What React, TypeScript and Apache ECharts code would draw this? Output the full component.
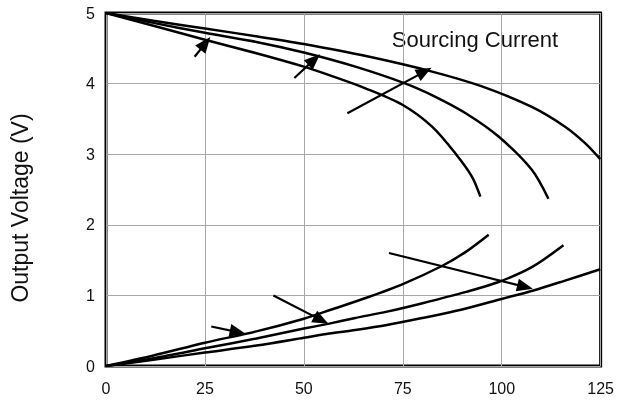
import React, { useEffect, useRef } from "react";
import * as echarts from "echarts";

const xTicks = [0, 25, 50, 75, 100, 125];
const yTicks = [0, 1, 2, 3, 4, 5];

// Sourcing current curves (x: current, y: output voltage)
const sourceLow: [number, number][] = [[0, 5], [12, 4.82], [25, 4.62], [38, 4.43], [50, 4.24], [56.4, 4.12], [65.7, 3.93], [74.9, 3.7], [82.4, 3.39], [88.3, 3.01], [92.5, 2.68], [94.6, 2.4]];
const sourceMid: [number, number][] = [[0, 5], [12, 4.86], [25, 4.72], [38, 4.59], [50, 4.44], [63, 4.24], [75.7, 4.0], [83, 3.82], [90.9, 3.58], [99.2, 3.25], [107.6, 2.78], [111.8, 2.37]];
const sourceHigh: [number, number][] = [[0, 5], [12, 4.89], [25, 4.78], [38, 4.67], [50, 4.56], [65.7, 4.39], [82.4, 4.17], [95, 3.96], [107.6, 3.67], [116, 3.39], [121, 3.16], [124.9, 2.93]];

// Sinking current curves
const sinkHigh: [number, number][] = [[0, 0], [12, 0.15], [25, 0.33], [38, 0.49], [50, 0.67], [57, 0.8], [66, 0.97], [75, 1.16], [85, 1.42], [91, 1.62], [96.7, 1.86]];
const sinkMid: [number, number][] = [[0, 0], [12, 0.11], [25, 0.25], [38, 0.39], [50, 0.53], [56.4, 0.6], [63, 0.68], [71, 0.77], [80, 0.89], [91, 1.05], [99.2, 1.19], [107.6, 1.4], [115.6, 1.71]];
const sinkLow: [number, number][] = [[0, 0], [12, 0.09], [25, 0.19], [38, 0.29], [50, 0.4], [56.4, 0.46], [63, 0.51], [71, 0.58], [80, 0.68], [90, 0.8], [100, 0.95], [108, 1.07], [116, 1.21], [124.9, 1.37]];

// Annotation arrows: [tailX, tailY, headX, headY]
const arrows: [number, number, number, number][] = [
  [22.4, 4.38, 25.1, 4.57],
  [47.6, 4.08, 52.6, 4.34],
  [61, 3.58, 80.5, 4.17],
  [26.6, 0.56, 33.3, 0.48],
  [42.3, 1.0, 54.4, 0.65],
  [71.5, 1.6, 105.9, 1.12],
];

const curves = [sourceLow, sourceMid, sourceHigh, sinkHigh, sinkMid, sinkLow];

export default function App() {
  const ref = useRef<HTMLDivElement>(null);
  useEffect(() => {
    if (!ref.current) return;
    const chart = echarts.init(ref.current, null, { renderer: "svg" });
    const font = "Arial, 'Liberation Sans', sans-serif";
    const series: any[] = curves.map((d, i) => ({
      type: "line",
      data: d,
      smooth: 0.3,
      showSymbol: false,
      symbol: "none",
      lineStyle: { color: "#000", width: 2.5 },
      silent: true,
      z: 3,
      ...(i === 0
        ? {
            markLine: {
              silent: true,
              symbol: ["none", "triangle"],
              symbolSize: [13, 16],
              label: { show: false },
              lineStyle: { color: "#000", width: 2.2, type: "solid" },
              emphasis: { disabled: true },
              data: arrows.map((a) => [
                { coord: [a[0], a[1]] },
                { coord: [a[2], a[3]] },
              ]),
            },
          }
        : {}),
    }));
    chart.setOption({
      animation: false,
      grid: {
        left: 106,
        right: 15,
        top: 13,
        bottom: 35,
        show: true,
        borderColor: "#000",
        borderWidth: 3,
        backgroundColor: "transparent",
      },
      xAxis: {
        type: "value",
        min: 0,
        max: 125,
        interval: 25,
        axisLine: { show: false },
        axisTick: { show: false },
        splitLine: { show: true, lineStyle: { color: "#a8a8a8", width: 1 } },
        axisLabel: {
          color: "#111",
          fontSize: 16,
          fontFamily: font,
          margin: 14,
          formatter: (v: number) => (xTicks.includes(v) ? String(v) : ""),
        },
      },
      yAxis: {
        type: "value",
        min: 0,
        max: 5,
        interval: 1,
        axisLine: { show: false },
        axisTick: { show: false },
        splitLine: { show: true, lineStyle: { color: "#a8a8a8", width: 1 } },
        axisLabel: {
          color: "#111",
          fontSize: 16,
          fontFamily: font,
          margin: 11,
          formatter: (v: number) => (yTicks.includes(v) ? String(v) : ""),
        },
      },
      graphic: [
        {
          type: "text",
          x: 20,
          y: 208,
          rotation: Math.PI / 2,
          style: {
            text: "Output Voltage (V)",
            fontSize: 23,
            fontFamily: font,
            fill: "#111",
            align: "center",
            verticalAlign: "middle",
          },
        },
        {
          type: "text",
          x: 475,
          y: 39,
          style: {
            text: "Sourcing Current",
            fontSize: 22,
            fontFamily: font,
            fill: "#111",
            align: "center",
            verticalAlign: "middle",
          },
        },
      ],
      series,
    });
    return () => chart.dispose();
  }, []);
  return <div ref={ref} style={{ width: 617, height: 401, position: "fixed", left: 0, top: 0 }} />;
}
